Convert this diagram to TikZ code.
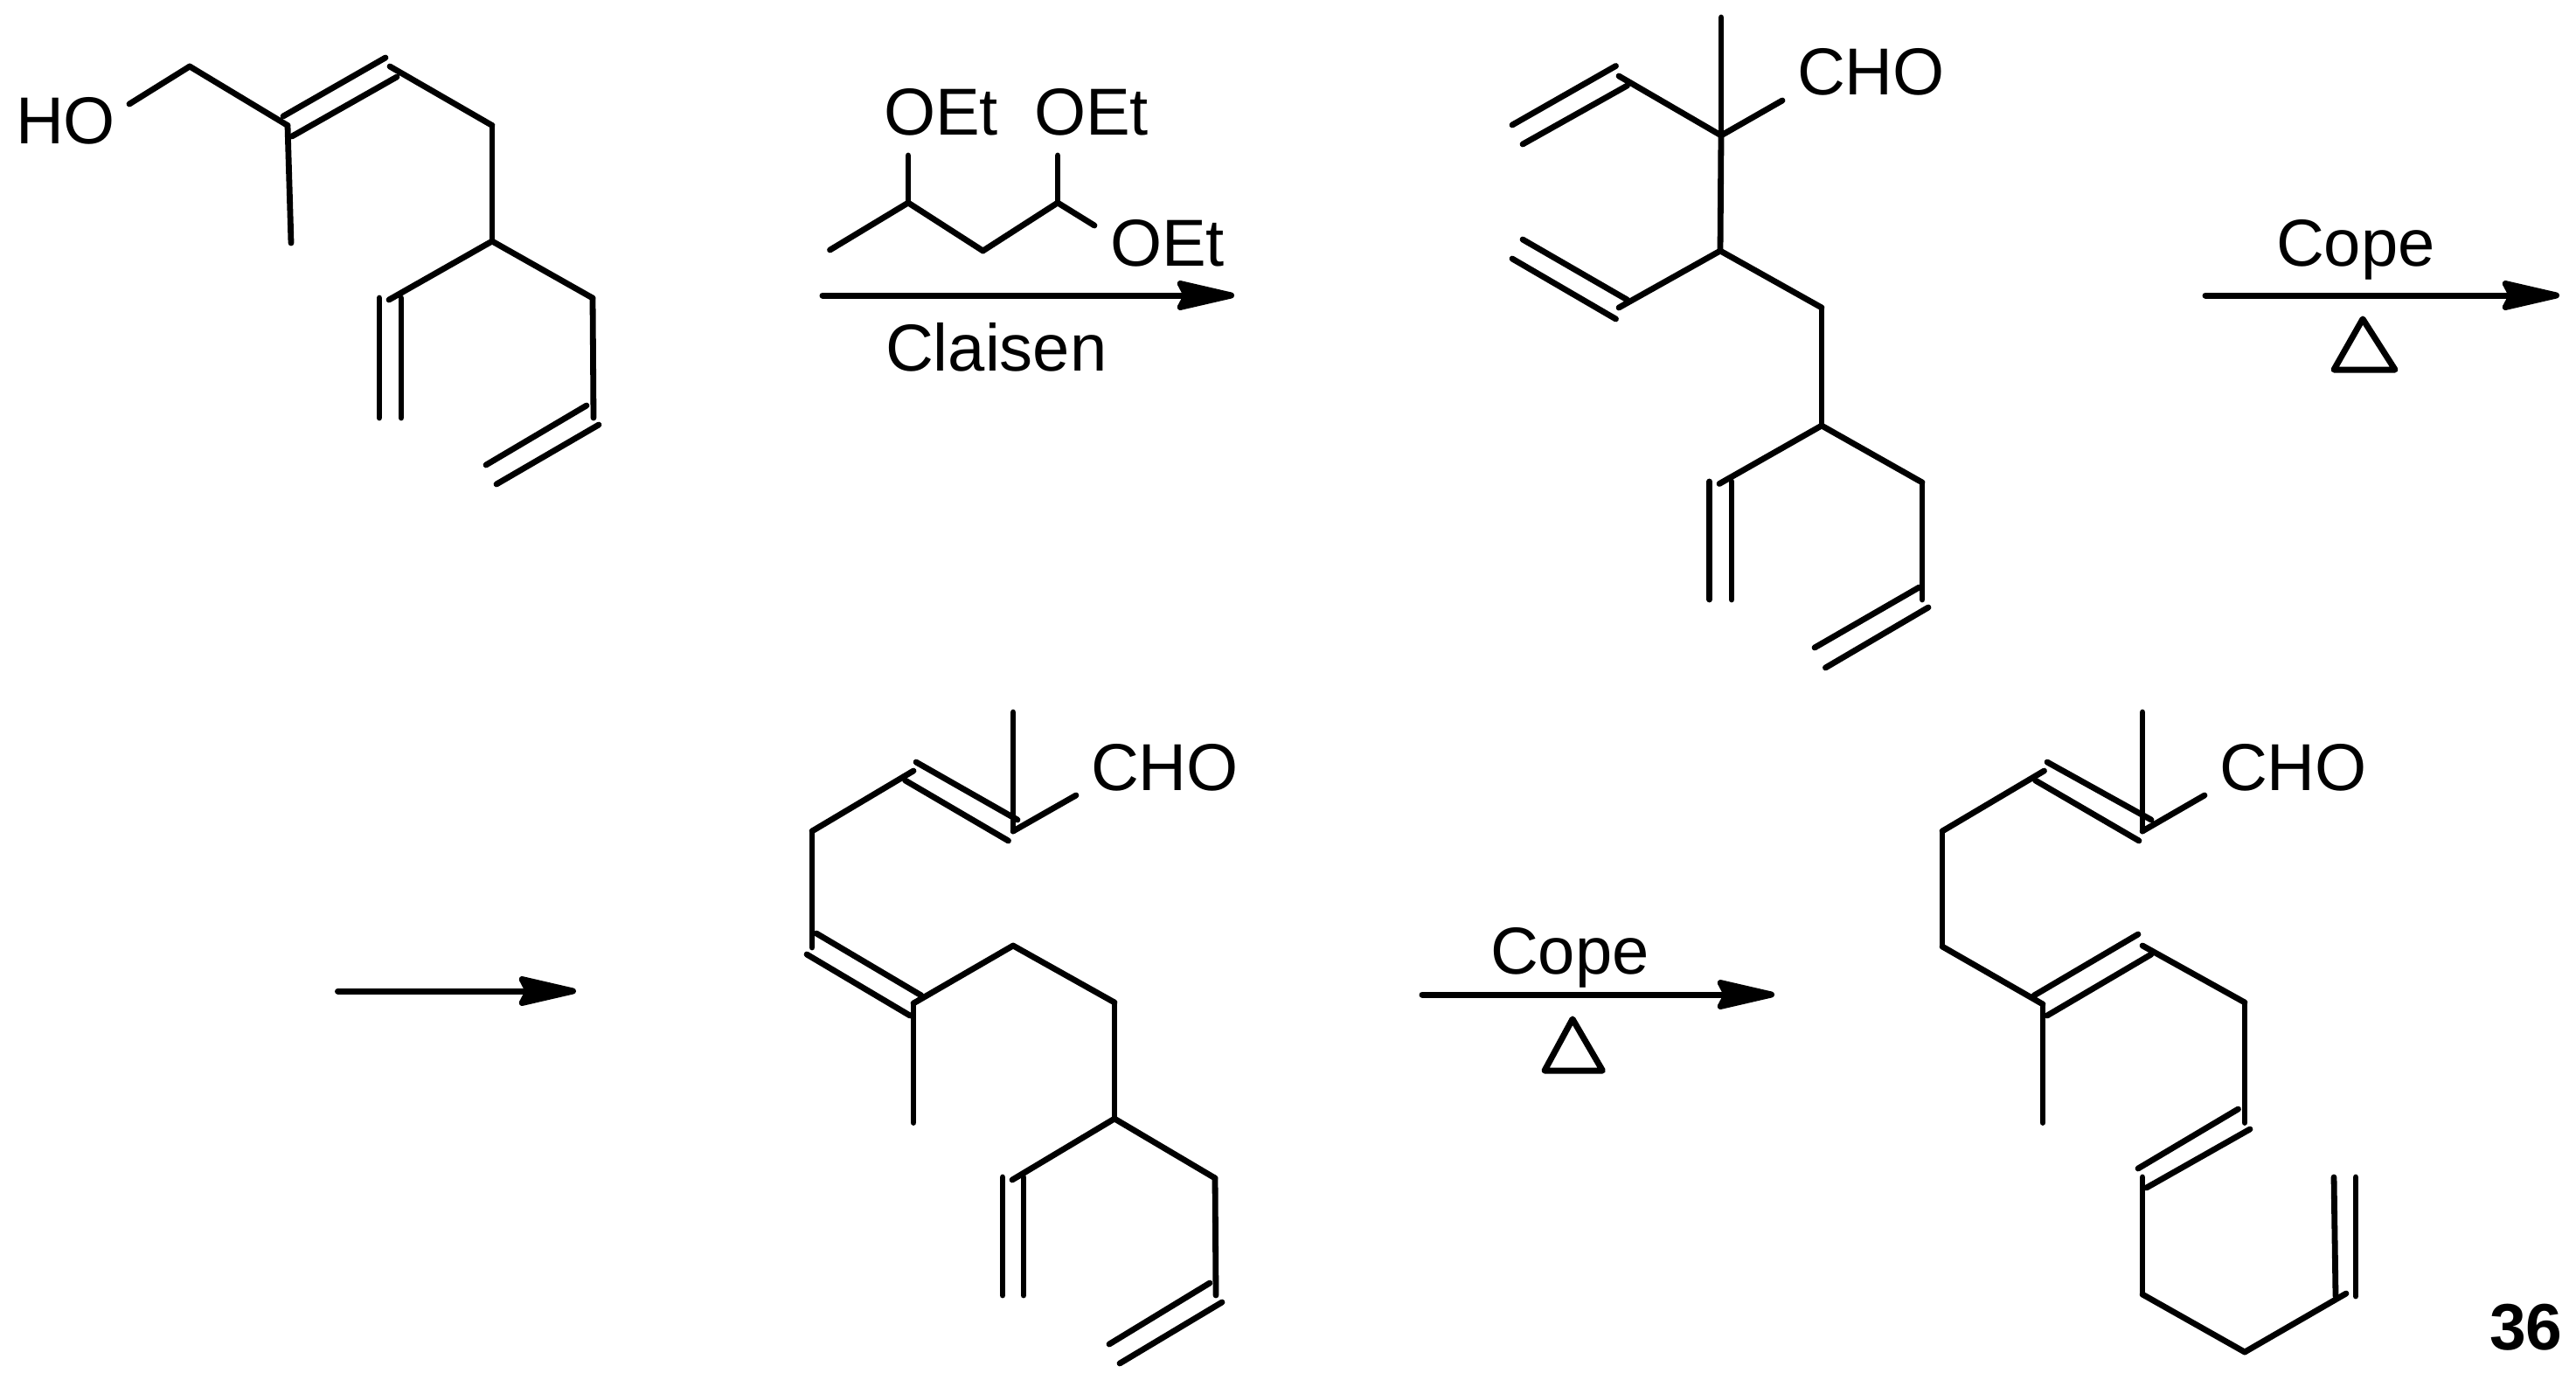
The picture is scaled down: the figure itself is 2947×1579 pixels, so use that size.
\documentclass[tikz,border=0pt]{standalone}
\usepackage{fontspec}
\setmainfont{Liberation Sans}
\usetikzlibrary{arrows.meta}
\tikzset{
  bond/.style={line width=6.8pt,line cap=round,line join=round,black},
  rxn/.style={line width=7pt,line cap=round,black,-{Stealth[length=80pt,width=36pt,inset=9pt,round]}},
  heat/.style={line width=7pt,line join=round,black},
  chem/.style={anchor=base west,inner sep=0pt,outer sep=0pt,font=\fontsize{76}{90}\selectfont},
  tag/.style={anchor=base west,inner sep=0pt,outer sep=0pt,font=\fontsize{75}{90}\selectfont\bfseries}
}
\newcommand{\bonds}[1]{\foreach \u/\v in {#1}{\draw[bond] (\u) -- (\v);}}
\begin{document}
\begin{tikzpicture}[x=1pt,y=-1pt]
\useasboundingbox (0,0) rectangle (2947,1579);
\fill[white] (0,0) rectangle (2947,1579);

% --- molecule 1
\node[chem] (ho) at (18,164) {HO};
\foreach \n/\x/\y in {
 aO/148/119, aC1/217/76, aC2/329/143.5, aC3/446/76, aC4/563/143.5, aC5/563/276,
 aMe/333/278, aD1/324/133, aD2/441/66, aD3/334/156, aD4/454/88,
 aV/445/343, aV1/434/341, aV2/434/478, aV3/459/341, aV4/459/478,
 aC7/678/341, aC8/679/478, aW1/671/464, aW2/556/532, aW3/685/486, aW4/568/554}
 {\coordinate (\n) at (\x,\y);}
\bonds{aO/aC1, aC1/aC2, aC2/aMe, aD1/aD2, aD3/aD4, aC3/aC4, aC4/aC5, aC5/aV, aV1/aV2, aV3/aV4, aC5/aC7, aC7/aC8, aW1/aW2, aW3/aW4}

% --- reagent
\node[chem] (oet1) at (1011,154) {OEt};
\node[chem] (oet2) at (1183,154) {OEt};
\node[chem] (oet3) at (1270,304) {OEt};
\node[chem] (claisen) at (1013,424) {Claisen};
\foreach \n/\x/\y in {
 rA/949.5/286, rB/1039/232, rC/1124.5/287, rD/1210/232, rE/1252/258, rF/1039/178, rG/1210/178,
 s1/941/338, e1/1412/338}
 {\coordinate (\n) at (\x,\y);}
\bonds{rA/rB, rB/rC, rC/rD, rD/rE, rB/rF, rD/rG}
\draw[rxn] (s1) -- (e1);

% --- molecule 2
\node[chem] (cho2) at (2056,108) {CHO};
\foreach \n/\x/\y in {
 bMe/1969/20, bQ/1969/155, bCO/2039/115, bV/1852/87,
 bA1/1848.5/75.5, bA2/1730/143, bA3/1861.5/98, bA4/1742/165,
 bC/1968/287, bU/1852/352, bB1/1861.5/343, bB2/1742/274, bB3/1848.5/365, bB4/1730/296,
 bD/2084/352, bE/2084/487, bF/1967/553.5,
 bG1/1955.6/551, bG2/1955.6/686, bG3/1981/551, bG4/1981/686,
 bH/2199/552, bI/2199/686, bJ1/2195.6/672, bJ2/2076/741, bJ3/2206/695, bJ4/2088.4/764}
 {\coordinate (\n) at (\x,\y);}
\bonds{bMe/bQ, bQ/bCO, bQ/bV, bA1/bA2, bA3/bA4, bQ/bC, bC/bU, bB1/bB2, bB3/bB4, bC/bD, bD/bE, bE/bF, bG1/bG2, bG3/bG4, bE/bH, bH/bI, bJ1/bJ2, bJ3/bJ4}

% --- Cope arrow 1
\node[chem] (cope1) at (2604,304) {Cope};
\coordinate (s2) at (2523,338);
\coordinate (e2) at (2928,338);
\draw[rxn] (s2) -- (e2);
\coordinate (t1a) at (2703,365);
\coordinate (t1b) at (2670,423);
\coordinate (t1c) at (2740,423);
\draw[heat] (t1a) -- (t1b) -- (t1c) -- cycle;

% --- arrow row 2
\coordinate (s3) at (386.5,1134);
\coordinate (e3) at (659,1134);
\draw[rxn] (s3) -- (e3);

% --- molecule 3
\node[chem] (cho3) at (1248,904) {CHO};
\foreach \n/\x/\y in {
 cMe/1159/815, cQ/1159/951, cCO/1231/910,
 cA1/1048/872, cA2/1164/938, cA3/1035.6/893, cA4/1153.5/962,
 cB/1045/882, cC/929/951, cD/929/1084,
 cE1/934/1068, cE2/1054/1139, cE3/923/1092, cE4/1041/1162,
 cF/1045/1148, cG/1045/1284.5, cH/1159/1082, cI/1275/1147, cJ/1275/1280,
 cK/1158/1350, cL1/1147/1347, cL2/1147/1482, cL3/1171/1347, cL4/1171/1482,
 cM/1390/1348, cN/1391/1482, cO1/1384/1468, cO2/1269/1538, cO3/1398/1490, cO4/1281/1560}
 {\coordinate (\n) at (\x,\y);}
\bonds{cMe/cQ, cQ/cCO, cA1/cA2, cA3/cA4, cB/cC, cC/cD, cE1/cE2, cE3/cE4, cF/cG, cF/cH, cH/cI, cI/cJ, cJ/cK, cL1/cL2, cL3/cL4, cJ/cM, cM/cN, cO1/cO2, cO3/cO4}

% --- Cope arrow 2
\node[chem] (cope2) at (1705,1114) {Cope};
\coordinate (s4) at (1627,1138);
\coordinate (e4) at (2030,1138);
\draw[rxn] (s4) -- (e4);
\coordinate (t2a) at (1799,1166);
\coordinate (t2b) at (1767,1225);
\coordinate (t2c) at (1833.4,1225);
\draw[heat] (t2a) -- (t2b) -- (t2c) -- cycle;

% --- molecule 4
\node[chem] (cho4) at (2539,904) {CHO};
\foreach \n/\x/\y in {
 dMe/2451/815, dQ/2451/951, dCO/2522/910,
 dA1/2342/872, dA2/2461/938, dA3/2328.5/893, dA4/2447/962,
 dB/2338.5/882, dC/2222/951, dD/2222/1083, dE/2337/1149, dF/2337/1284.5,
 dG1/2327/1139, dG2/2446/1069, dG3/2342/1162, dG4/2461/1092,
 dH/2451/1082, dI/2568/1147, dJ/2568/1284.5,
 dK1/2560.5/1269, dK2/2446/1337, dK3/2574/1292, dK4/2455.6/1359,
 dL/2451/1347, dM/2451/1481, dN/2568/1547, dO/2684/1480,
 dP1/2670/1347, dP2/2672/1483, dP3/2695/1347, dP4/2695/1483}
 {\coordinate (\n) at (\x,\y);}
\bonds{dMe/dQ, dQ/dCO, dA1/dA2, dA3/dA4, dB/dC, dC/dD, dD/dE, dE/dF, dG1/dG2, dG3/dG4, dH/dI, dI/dJ, dK1/dK2, dK3/dK4, dL/dM, dM/dN, dN/dO, dP1/dP2, dP3/dP4}

\node[tag] (n36) at (2848,1544) {36};
\end{tikzpicture}
\end{document}
